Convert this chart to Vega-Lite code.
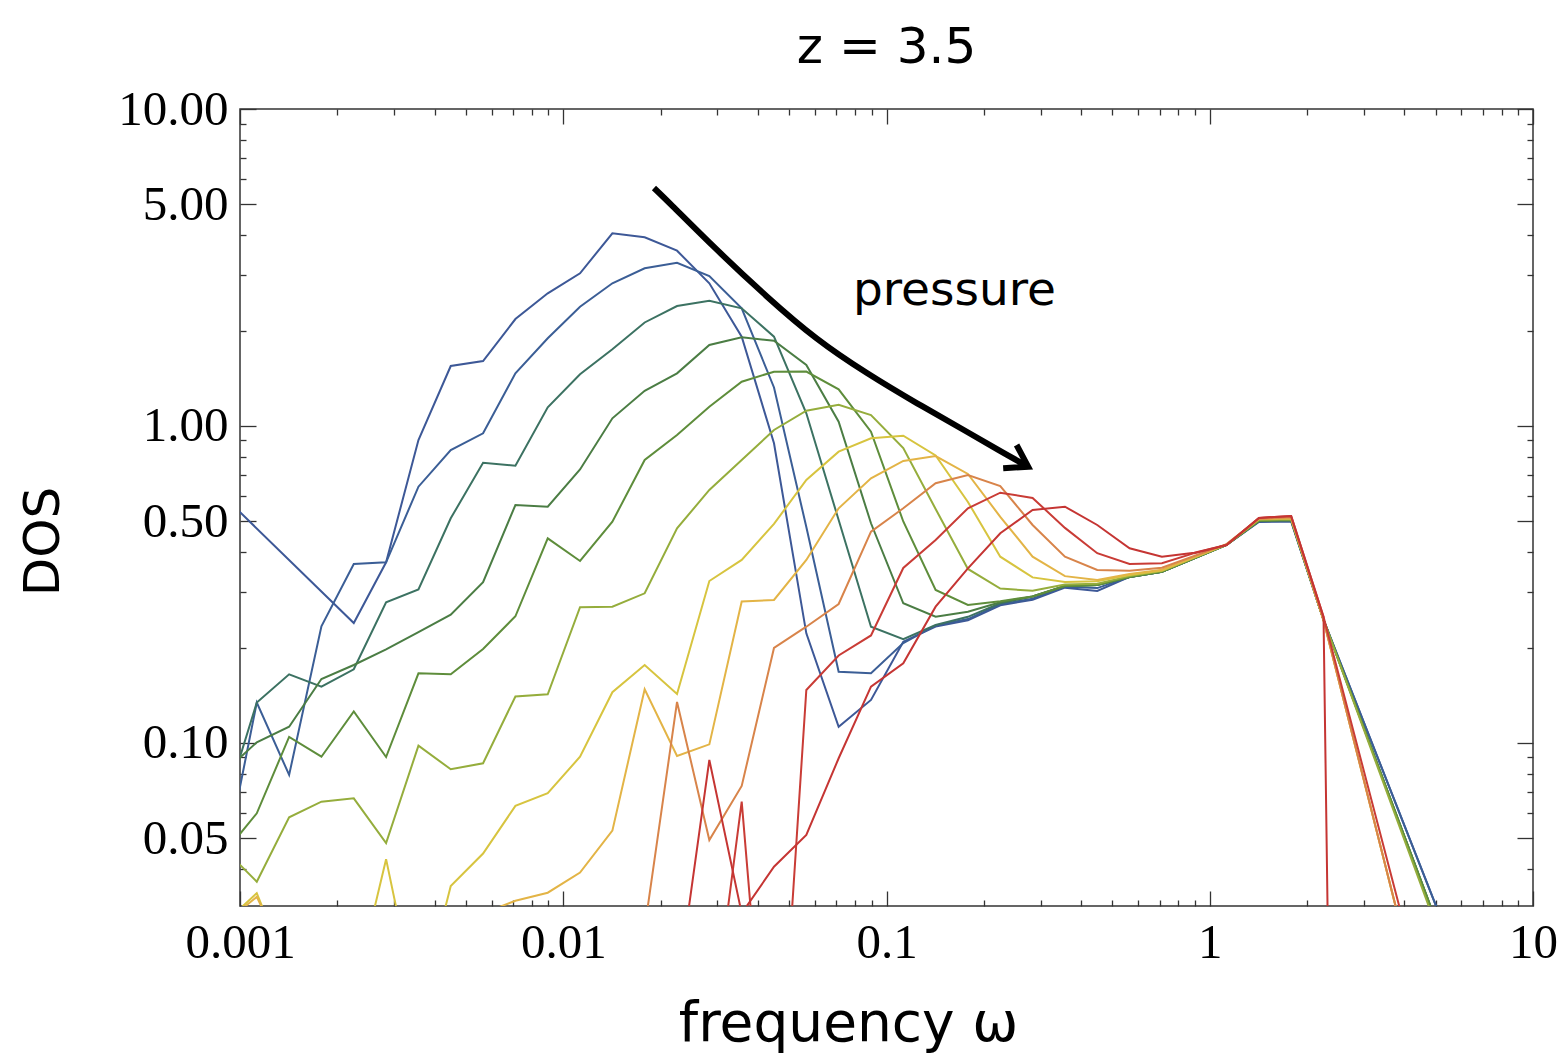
{
  "$schema": "https://vega.github.io/schema/vega-lite/v6.json",
  "width": 1293,
  "height": 797,
  "autosize": "none",
  "padding": {"left": 240, "top": 109, "right": 31, "bottom": 151},
  "background": "white",
  "title": {"text": "z = 3.5", "font": "DejaVu Sans", "fontSize": 50, "fontWeight": "normal", "color": "black", "anchor": "middle", "frame": "group", "baseline": "alphabetic", "offset": -28},
  "config": {
    "view": {"stroke": "#333333", "strokeWidth": 1.5},
    "axis": {"domain": false, "grid": false, "tickColor": "#333333", "tickWidth": 1.3, "labelColor": "black", "titleColor": "black"}
  },
  "datasets": {
    "dos": [
      {"s":1,"w":0.000895,"v":0.597},{"s":1,"w":0.002249,"v":0.239},{"s":1,"w":0.002831,"v":0.3715},{"s":1,"w":0.003565,"v":0.903},{"s":1,"w":0.004487,"v":1.546},{"s":1,"w":0.005649,"v":1.603},{"s":1,"w":0.007112,"v":2.175},{"s":1,"w":0.008954,"v":2.622},{"s":1,"w":0.01127,"v":3.032},{"s":1,"w":0.01419,"v":4.054},{"s":1,"w":0.01786,"v":3.938},{"s":1,"w":0.02249,"v":3.573},{"s":1,"w":0.02831,"v":2.819},{"s":1,"w":0.03565,"v":1.913},{"s":1,"w":0.04487,"v":0.882},{"s":1,"w":0.05649,"v":0.2218},{"s":1,"w":0.07112,"v":0.1125},{"s":1,"w":0.08954,"v":0.1367},{"s":1,"w":0.1127,"v":0.2087},{"s":1,"w":0.1419,"v":0.233},{"s":1,"w":0.1786,"v":0.244},{"s":1,"w":0.2249,"v":0.272},{"s":1,"w":0.2831,"v":0.283},{"s":1,"w":0.3565,"v":0.309},{"s":1,"w":0.4487,"v":0.3016},{"s":1,"w":0.5649,"v":0.334},{"s":1,"w":0.7112,"v":0.347},{"s":1,"w":0.8954,"v":0.3825},{"s":1,"w":1.127,"v":0.4213},{"s":1,"w":1.419,"v":0.498},{"s":1,"w":1.786,"v":0.4995},{"s":1,"w":2.249,"v":0.2444},{"s":1,"w":5.649,"v":0.02246},
      {"s":2,"w":0.000895,"v":0.0411},{"s":2,"w":0.001127,"v":0.1342},{"s":2,"w":0.001419,"v":0.0793},{"s":2,"w":0.001786,"v":0.2334},{"s":2,"w":0.002249,"v":0.367},{"s":2,"w":0.002831,"v":0.3715},{"s":2,"w":0.003565,"v":0.6435},{"s":2,"w":0.004487,"v":0.84},{"s":2,"w":0.005649,"v":0.9484},{"s":2,"w":0.007112,"v":1.466},{"s":2,"w":0.008954,"v":1.891},{"s":2,"w":0.01127,"v":2.378},{"s":2,"w":0.01419,"v":2.819},{"s":2,"w":0.01786,"v":3.144},{"s":2,"w":0.02249,"v":3.274},{"s":2,"w":0.02831,"v":2.973},{"s":2,"w":0.03565,"v":2.351},{"s":2,"w":0.04487,"v":1.323},{"s":2,"w":0.05649,"v":0.4801},{"s":2,"w":0.07112,"v":0.1678},{"s":2,"w":0.08954,"v":0.1659},{"s":2,"w":0.1127,"v":0.2067},{"s":2,"w":0.1419,"v":0.235},{"s":2,"w":0.1786,"v":0.246},{"s":2,"w":0.2249,"v":0.274},{"s":2,"w":0.2831,"v":0.285},{"s":2,"w":0.3565,"v":0.311},{"s":2,"w":0.4487,"v":0.308},{"s":2,"w":0.5649,"v":0.334},{"s":2,"w":0.7112,"v":0.347},{"s":2,"w":0.8954,"v":0.3825},{"s":2,"w":1.127,"v":0.4213},{"s":2,"w":1.419,"v":0.5},{"s":2,"w":1.786,"v":0.502},{"s":2,"w":2.249,"v":0.2444},{"s":2,"w":5.649,"v":0.02246},
      {"s":3,"w":0.000895,"v":0.0626},{"s":3,"w":0.001127,"v":0.1342},{"s":3,"w":0.001419,"v":0.1647},{"s":3,"w":0.001786,"v":0.1505},{"s":3,"w":0.002249,"v":0.1708},{"s":3,"w":0.002831,"v":0.2779},{"s":3,"w":0.003565,"v":0.305},{"s":3,"w":0.004487,"v":0.5114},{"s":3,"w":0.005649,"v":0.7659},{"s":3,"w":0.007112,"v":0.7494},{"s":3,"w":0.008954,"v":1.1456},{"s":3,"w":0.01127,"v":1.456},{"s":3,"w":0.01419,"v":1.747},{"s":3,"w":0.01786,"v":2.121},{"s":3,"w":0.02249,"v":2.39},{"s":3,"w":0.02831,"v":2.485},{"s":3,"w":0.03565,"v":2.351},{"s":3,"w":0.04487,"v":1.913},{"s":3,"w":0.05649,"v":1.0966},{"s":3,"w":0.07112,"v":0.505},{"s":3,"w":0.08954,"v":0.2327},{"s":3,"w":0.1127,"v":0.2124},{"s":3,"w":0.1419,"v":0.2356},{"s":3,"w":0.1786,"v":0.25},{"s":3,"w":0.2249,"v":0.2759},{"s":3,"w":0.2831,"v":0.29},{"s":3,"w":0.3565,"v":0.3129},{"s":3,"w":0.4487,"v":0.3151},{"s":3,"w":0.5649,"v":0.334},{"s":3,"w":0.7112,"v":0.347},{"s":3,"w":0.8954,"v":0.3825},{"s":3,"w":1.127,"v":0.4213},{"s":3,"w":1.419,"v":0.502},{"s":3,"w":1.786,"v":0.505},{"s":3,"w":2.249,"v":0.2444},{"s":3,"w":5.649,"v":0.0198},
      {"s":4,"w":0.000895,"v":0.081},{"s":4,"w":0.001127,"v":0.1005},{"s":4,"w":0.001419,"v":0.1125},{"s":4,"w":0.001786,"v":0.1591},{"s":4,"w":0.002249,"v":0.1762},{"s":4,"w":0.002831,"v":0.1975},{"s":4,"w":0.003565,"v":0.2239},{"s":4,"w":0.004487,"v":0.2539},{"s":4,"w":0.005649,"v":0.3216},{"s":4,"w":0.007112,"v":0.5633},{"s":4,"w":0.008954,"v":0.5564},{"s":4,"w":0.01127,"v":0.7291},{"s":4,"w":0.01419,"v":1.0575},{"s":4,"w":0.01786,"v":1.2912},{"s":4,"w":0.02249,"v":1.466},{"s":4,"w":0.02831,"v":1.8008},{"s":4,"w":0.03565,"v":1.905},{"s":4,"w":0.04487,"v":1.858},{"s":4,"w":0.05649,"v":1.557},{"s":4,"w":0.07112,"v":1.0318},{"s":4,"w":0.08954,"v":0.4933},{"s":4,"w":0.1127,"v":0.2759},{"s":4,"w":0.1419,"v":0.2503},{"s":4,"w":0.1786,"v":0.2596},{"s":4,"w":0.2249,"v":0.278},{"s":4,"w":0.2831,"v":0.29},{"s":4,"w":0.3565,"v":0.3129},{"s":4,"w":0.4487,"v":0.3151},{"s":4,"w":0.5649,"v":0.334},{"s":4,"w":0.7112,"v":0.347},{"s":4,"w":0.8954,"v":0.3825},{"s":4,"w":1.127,"v":0.4213},{"s":4,"w":1.419,"v":0.502},{"s":4,"w":1.786,"v":0.505},{"s":4,"w":2.249,"v":0.2444},{"s":4,"w":5.649,"v":0.0198},
      {"s":5,"w":0.000895,"v":0.045},{"s":5,"w":0.001127,"v":0.06},{"s":5,"w":0.001419,"v":0.1045},{"s":5,"w":0.001786,"v":0.0905},{"s":5,"w":0.002249,"v":0.1257},{"s":5,"w":0.002831,"v":0.0903},{"s":5,"w":0.003565,"v":0.1659},{"s":5,"w":0.004487,"v":0.1648},{"s":5,"w":0.005649,"v":0.1979},{"s":5,"w":0.007112,"v":0.251},{"s":5,"w":0.008954,"v":0.4422},{"s":5,"w":0.01127,"v":0.3751},{"s":5,"w":0.01419,"v":0.499},{"s":5,"w":0.01786,"v":0.781},{"s":5,"w":0.02249,"v":0.9367},{"s":5,"w":0.02831,"v":1.1506},{"s":5,"w":0.03565,"v":1.3795},{"s":5,"w":0.04487,"v":1.4833},{"s":5,"w":0.05649,"v":1.4853},{"s":5,"w":0.07112,"v":1.3056},{"s":5,"w":0.08954,"v":0.9594},{"s":5,"w":0.1127,"v":0.4998},{"s":5,"w":0.1419,"v":0.3039},{"s":5,"w":0.1786,"v":0.2725},{"s":5,"w":0.2249,"v":0.28},{"s":5,"w":0.2831,"v":0.29},{"s":5,"w":0.3565,"v":0.3129},{"s":5,"w":0.4487,"v":0.3151},{"s":5,"w":0.5649,"v":0.334},{"s":5,"w":0.7112,"v":0.347},{"s":5,"w":0.8954,"v":0.3825},{"s":5,"w":1.127,"v":0.4213},{"s":5,"w":1.419,"v":0.502},{"s":5,"w":1.786,"v":0.505},{"s":5,"w":2.249,"v":0.2444},{"s":5,"w":5.649,"v":0.0198},
      {"s":6,"w":0.000895,"v":0.0462},{"s":6,"w":0.001127,"v":0.0365},{"s":6,"w":0.001419,"v":0.0583},{"s":6,"w":0.001786,"v":0.0653},{"s":6,"w":0.002249,"v":0.0669},{"s":6,"w":0.002831,"v":0.0483},{"s":6,"w":0.003565,"v":0.0981},{"s":6,"w":0.004487,"v":0.0826},{"s":6,"w":0.005649,"v":0.0863},{"s":6,"w":0.007112,"v":0.1402},{"s":6,"w":0.008954,"v":0.1424},{"s":6,"w":0.01127,"v":0.268},{"s":6,"w":0.01419,"v":0.2692},{"s":6,"w":0.01786,"v":0.2966},{"s":6,"w":0.02249,"v":0.4756},{"s":6,"w":0.02831,"v":0.6283},{"s":6,"w":0.03565,"v":0.781},{"s":6,"w":0.04487,"v":0.9714},{"s":6,"w":0.05649,"v":1.1177},{"s":6,"w":0.07112,"v":1.167},{"s":6,"w":0.08954,"v":1.083},{"s":6,"w":0.1127,"v":0.852},{"s":6,"w":0.1419,"v":0.547},{"s":6,"w":0.1786,"v":0.354},{"s":6,"w":0.2249,"v":0.307},{"s":6,"w":0.2831,"v":0.302},{"s":6,"w":0.3565,"v":0.316},{"s":6,"w":0.4487,"v":0.318},{"s":6,"w":0.5649,"v":0.336},{"s":6,"w":0.7112,"v":0.349},{"s":6,"w":0.8954,"v":0.384},{"s":6,"w":1.127,"v":0.422},{"s":6,"w":1.419,"v":0.505},{"s":6,"w":1.786,"v":0.508},{"s":6,"w":2.249,"v":0.2444},{"s":6,"w":5.649,"v":0.019},
      {"s":7,"w":0.000895,"v":0.027},{"s":7,"w":0.001127,"v":0.0336},{"s":7,"w":0.001419,"v":0.0187},{"s":7,"w":0.002249,"v":0.016},{"s":7,"w":0.002831,"v":0.043},{"s":7,"w":0.003565,"v":0.014},{"s":7,"w":0.004487,"v":0.0354},{"s":7,"w":0.005649,"v":0.0448},{"s":7,"w":0.007112,"v":0.0633},{"s":7,"w":0.008954,"v":0.0694},{"s":7,"w":0.01127,"v":0.0905},{"s":7,"w":0.01419,"v":0.1446},{"s":7,"w":0.01786,"v":0.1762},{"s":7,"w":0.02249,"v":0.1428},{"s":7,"w":0.02831,"v":0.3243},{"s":7,"w":0.03565,"v":0.378},{"s":7,"w":0.04487,"v":0.491},{"s":7,"w":0.05649,"v":0.676},{"s":7,"w":0.07112,"v":0.83},{"s":7,"w":0.08954,"v":0.915},{"s":7,"w":0.1127,"v":0.932},{"s":7,"w":0.1419,"v":0.807},{"s":7,"w":0.1786,"v":0.576},{"s":7,"w":0.2249,"v":0.387},{"s":7,"w":0.2831,"v":0.333},{"s":7,"w":0.3565,"v":0.322},{"s":7,"w":0.4487,"v":0.324},{"s":7,"w":0.5649,"v":0.339},{"s":7,"w":0.7112,"v":0.35},{"s":7,"w":0.8954,"v":0.385},{"s":7,"w":1.127,"v":0.423},{"s":7,"w":1.419,"v":0.509},{"s":7,"w":1.786,"v":0.512},{"s":7,"w":2.249,"v":0.2444},{"s":7,"w":5.649,"v":0.00586},
      {"s":8,"w":0.000895,"v":0.027},{"s":8,"w":0.001127,"v":0.0327},{"s":8,"w":0.001419,"v":0.02},{"s":8,"w":0.005649,"v":0.029},{"s":8,"w":0.007112,"v":0.0318},{"s":8,"w":0.008954,"v":0.0337},{"s":8,"w":0.01127,"v":0.039},{"s":8,"w":0.01419,"v":0.0529},{"s":8,"w":0.01786,"v":0.1477},{"s":8,"w":0.02249,"v":0.091},{"s":8,"w":0.02831,"v":0.099},{"s":8,"w":0.03565,"v":0.2795},{"s":8,"w":0.04487,"v":0.2826},{"s":8,"w":0.05649,"v":0.378},{"s":8,"w":0.07112,"v":0.55},{"s":8,"w":0.08954,"v":0.684},{"s":8,"w":0.1127,"v":0.776},{"s":8,"w":0.1419,"v":0.804},{"s":8,"w":0.1786,"v":0.706},{"s":8,"w":0.2249,"v":0.517},{"s":8,"w":0.2831,"v":0.387},{"s":8,"w":0.3565,"v":0.336},{"s":8,"w":0.4487,"v":0.327},{"s":8,"w":0.5649,"v":0.341},{"s":8,"w":0.7112,"v":0.352},{"s":8,"w":0.8954,"v":0.386},{"s":8,"w":1.127,"v":0.423},{"s":8,"w":1.419,"v":0.509},{"s":8,"w":1.786,"v":0.512},{"s":8,"w":2.249,"v":0.2444},{"s":8,"w":5.649,"v":0.00586},
      {"s":9,"w":0.01786,"v":0.026},{"s":9,"w":0.02249,"v":0.1347},{"s":9,"w":0.02831,"v":0.0494},{"s":9,"w":0.03565,"v":0.0732},{"s":9,"w":0.04487,"v":0.1994},{"s":9,"w":0.05649,"v":0.2327},{"s":9,"w":0.07112,"v":0.2745},{"s":9,"w":0.08954,"v":0.464},{"s":9,"w":0.1127,"v":0.5499},{"s":9,"w":0.1419,"v":0.6596},{"s":9,"w":0.1786,"v":0.7004},{"s":9,"w":0.2249,"v":0.6467},{"s":9,"w":0.2831,"v":0.4872},{"s":9,"w":0.3565,"v":0.387},{"s":9,"w":0.4487,"v":0.3513},{"s":9,"w":0.5649,"v":0.3495},{"s":9,"w":0.7112,"v":0.357},{"s":9,"w":0.8954,"v":0.389},{"s":9,"w":1.127,"v":0.424},{"s":9,"w":1.419,"v":0.51},{"s":9,"w":1.786,"v":0.515},{"s":9,"w":2.249,"v":0.2444},{"s":9,"w":5.649,"v":0.00586},
      {"s":10,"w":0.02831,"v":0.0106},{"s":10,"w":0.03565,"v":0.0653},{"s":10,"w":0.04487,"v":0.004},{"s":10,"w":0.05649,"v":0.147},{"s":10,"w":0.07112,"v":0.1888},{"s":10,"w":0.08954,"v":0.2184},{"s":10,"w":0.1127,"v":0.3565},{"s":10,"w":0.1419,"v":0.437},{"s":10,"w":0.1786,"v":0.55},{"s":10,"w":0.2249,"v":0.616},{"s":10,"w":0.2831,"v":0.593},{"s":10,"w":0.3565,"v":0.477},{"s":10,"w":0.4487,"v":0.397},{"s":10,"w":0.5649,"v":0.367},{"s":10,"w":0.7112,"v":0.369},{"s":10,"w":0.8954,"v":0.397},{"s":10,"w":1.127,"v":0.421},{"s":10,"w":1.419,"v":0.513},{"s":10,"w":1.786,"v":0.52},{"s":10,"w":2.249,"v":0.25},{"s":10,"w":5.649,"v":0.0069},
      {"s":11,"w":0.02249,"v":0.0163},{"s":11,"w":0.02831,"v":0.0884},{"s":11,"w":0.03565,"v":0.029},{"s":11,"w":0.04487,"v":0.0407},{"s":11,"w":0.05649,"v":0.0513},{"s":11,"w":0.07112,"v":0.0895},{"s":11,"w":0.08954,"v":0.1505},{"s":11,"w":0.1127,"v":0.1784},{"s":11,"w":0.1419,"v":0.2692},{"s":11,"w":0.1786,"v":0.3557},{"s":11,"w":0.2249,"v":0.4586},{"s":11,"w":0.2831,"v":0.5433},{"s":11,"w":0.3565,"v":0.5564},{"s":11,"w":0.4487,"v":0.4872},{"s":11,"w":0.5649,"v":0.4113},{"s":11,"w":0.7112,"v":0.387},{"s":11,"w":0.8954,"v":0.3984},{"s":11,"w":1.127,"v":0.4213},{"s":11,"w":1.419,"v":0.513},{"s":11,"w":1.786,"v":0.52},{"s":11,"w":2.249,"v":0.25},{"s":11,"w":2.831,"v":0.00000001}
    ],
    "arrow": [
      {"i":0,"w":0.01908,"v":5.635},{"i":1,"w":0.02088,"v":5.164},{"i":2,"w":0.02981,"v":3.591},{"i":3,"w":0.04257,"v":2.557},{"i":4,"w":0.06077,"v":1.867},{"i":5,"w":0.08677,"v":1.466},{"i":6,"w":0.1239,"v":1.179},{"i":7,"w":0.1811,"v":0.9484},{"i":8,"w":0.2242,"v":0.834},{"i":9,"w":0.2744,"v":0.7438}
    ],
    "head": [
      {"i":0,"w":0.2526,"v":0.871},{"i":1,"w":0.2744,"v":0.7438},{"i":2,"w":0.2296,"v":0.7355}
    ],
    "label": [
      {"w":0.1622,"v":2.408,"t":"pressure"}
    ]
  },
  "layer": [
    {
      "data": {"name": "dos"},
      "mark": {"type": "line", "strokeWidth": 2, "clip": true},
      "encoding": {
        "x": {"field": "w", "type": "quantitative",
              "scale": {"type": "log", "domain": [0.001, 10], "nice": false},
              "axis": {"orient": "bottom", "values": [0.001, 0.01, 0.1, 1, 10], "ticks": false,
                       "labelExpr": "datum.value < 0.005 ? '0.001' : datum.value < 0.05 ? '0.01' : datum.value < 0.5 ? '0.1' : datum.value < 5 ? '1' : '10'",
                       "labelFont": "Liberation Serif", "labelFontSize": 49, "labelPadding": 12, "labelFlush": false, "labelOverlap": false,
                       "title": "frequency ω", "titleFont": "DejaVu Sans", "titleFontSize": 55, "titleFontWeight": "normal",
                       "titleX": 608, "titleY": 134, "titleBaseline": "alphabetic", "titleAlign": "center"}},
        "y": {"field": "v", "type": "quantitative",
              "scale": {"type": "log", "domain": [0.0306, 10], "nice": false},
              "axis": {"orient": "left", "values": [0.05, 0.1, 0.5, 1, 5, 10], "ticks": false, "format": ".2f",
                       "labelFont": "Liberation Serif", "labelFontSize": 49, "labelPadding": 12, "labelFlush": false, "labelOverlap": false,
                       "title": "DOS", "titleFont": "DejaVu Sans", "titleFontSize": 50, "titleFontWeight": "normal",
                       "titleX": -197, "titleY": 432, "titleAngle": 270, "titleAlign": "center", "titleBaseline": "middle"}},
        "color": {"field": "s", "type": "nominal",
                  "scale": {"domain": [1,2,3,4,5,6,7,8,9,10,11],
                            "range": ["#3d5897","#3b5e96","#3c7262","#4b7d44","#5e8d3b","#95ad3c","#d7c43f","#e3b446","#d8844a","#c93c36","#c53533"]},
                  "legend": null}
      }
    },
    {
      "data": {"name": "arrow"},
      "mark": {"type": "line", "color": "black", "strokeWidth": 6, "strokeCap": "butt", "interpolate": "basis", "clip": true},
      "encoding": {
        "x": {"field": "w", "type": "quantitative", "scale": {"type": "log", "domain": [0.001, 10], "nice": false},
              "axis": {"orient": "bottom", "values": [0.001, 0.01, 0.1, 1, 10], "labels": false, "tickSize": -15, "title": null}},
        "y": {"field": "v", "type": "quantitative", "scale": {"type": "log", "domain": [0.0306, 10], "nice": false},
              "axis": {"orient": "left", "values": [0.05, 0.1, 0.5, 1, 5, 10], "labels": false, "tickSize": -16, "title": null}},
        "order": {"field": "i", "type": "quantitative"}
      }
    },
    {
      "data": {"name": "head"},
      "mark": {"type": "line", "color": "black", "strokeWidth": 6, "strokeCap": "butt", "strokeJoin": "miter", "clip": true},
      "encoding": {
        "x": {"field": "w", "type": "quantitative", "scale": {"type": "log", "domain": [0.001, 10], "nice": false},
              "axis": {"orient": "bottom", "values": [0.002,0.003,0.004,0.005,0.006,0.007,0.008,0.009,0.02,0.03,0.04,0.05,0.06,0.07,0.08,0.09,0.2,0.3,0.4,0.5,0.6,0.7,0.8,0.9,2,3,4,5,6,7,8,9], "labels": false, "tickSize": -6, "title": null}},
        "y": {"field": "v", "type": "quantitative", "scale": {"type": "log", "domain": [0.0306, 10], "nice": false},
              "axis": {"orient": "left", "values": [0.04,0.06,0.07,0.08,0.09,0.2,0.3,0.4,0.6,0.7,0.8,0.9,2,3,4,6,7,8,9], "labels": false, "tickSize": -6, "title": null}},
        "order": {"field": "i", "type": "quantitative"}
      }
    },
    {
      "data": {"name": "label"},
      "mark": {"type": "text", "font": "DejaVu Sans", "fontSize": 47, "color": "black", "align": "center", "baseline": "alphabetic"},
      "encoding": {
        "x": {"field": "w", "type": "quantitative", "scale": {"type": "log", "domain": [0.001, 10], "nice": false},
              "axis": {"orient": "top", "values": [0.001, 0.01, 0.1, 1, 10], "labels": false, "tickSize": -15, "title": null}},
        "y": {"field": "v", "type": "quantitative", "scale": {"type": "log", "domain": [0.0306, 10], "nice": false},
              "axis": {"orient": "right", "values": [0.05, 0.1, 0.5, 1, 5, 10], "labels": false, "tickSize": -16, "title": null}},
        "text": {"field": "t"}
      }
    },
    {
      "data": {"name": "label"},
      "mark": {"type": "point", "opacity": 0},
      "encoding": {
        "x": {"field": "w", "type": "quantitative", "scale": {"type": "log", "domain": [0.001, 10], "nice": false},
              "axis": {"orient": "top", "values": [0.002,0.003,0.004,0.005,0.006,0.007,0.008,0.009,0.02,0.03,0.04,0.05,0.06,0.07,0.08,0.09,0.2,0.3,0.4,0.5,0.6,0.7,0.8,0.9,2,3,4,5,6,7,8,9], "labels": false, "tickSize": -6, "title": null}},
        "y": {"field": "v", "type": "quantitative", "scale": {"type": "log", "domain": [0.0306, 10], "nice": false},
              "axis": {"orient": "right", "values": [0.04,0.06,0.07,0.08,0.09,0.2,0.3,0.4,0.6,0.7,0.8,0.9,2,3,4,6,7,8,9], "labels": false, "tickSize": -6, "title": null}}
      }
    }
  ],
  "resolve": {"axis": {"x": "independent", "y": "independent"}}
}
